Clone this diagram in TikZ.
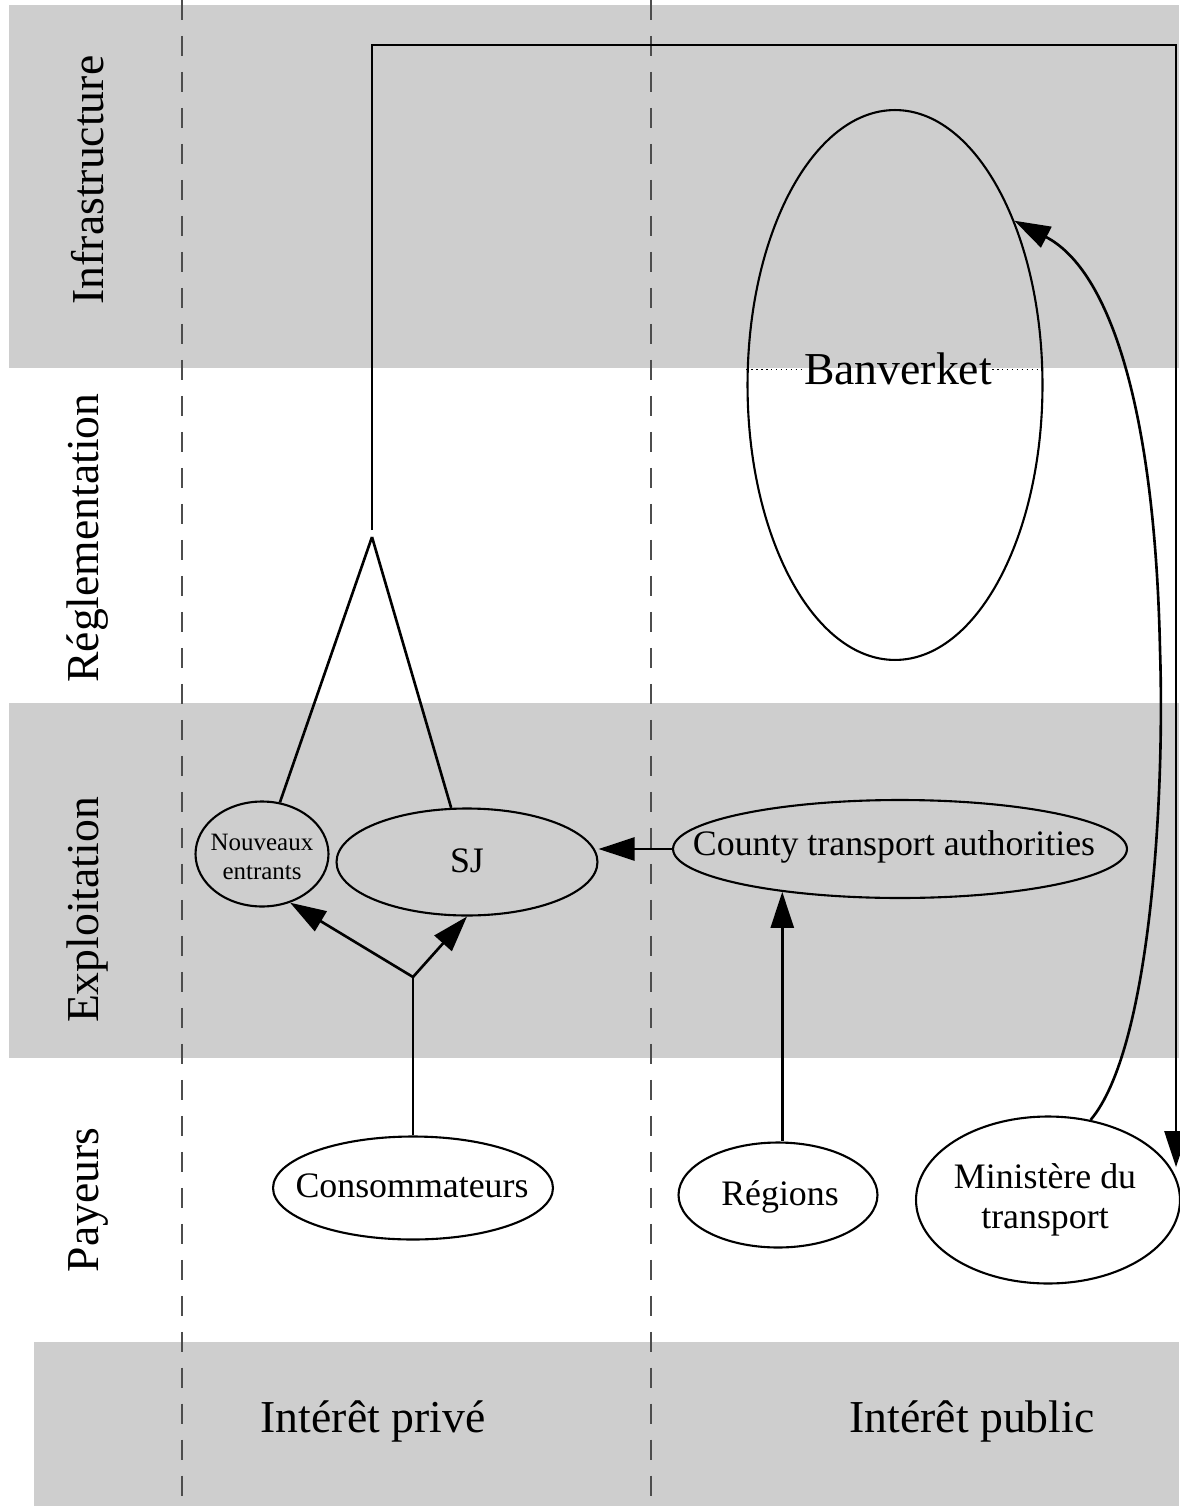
\documentclass[tikz,border=0pt]{standalone}
\usepackage{fontspec}
\setmainfont{Liberation Serif}
\usepackage{tikz}
\usetikzlibrary{arrows.meta,shapes.geometric,calc}
\definecolor{BandGray}{HTML}{CECECE}
\definecolor{GuideGray}{HTML}{4D4D4D}

\begin{document}
\begin{tikzpicture}[
  x=0.02cm, y=-0.02cm,
  >={Triangle[length=0.72cm,width=0.46cm]},
  oval/.style={ellipse,draw=black,line width=1.2pt,inner sep=0pt},
  txt/.style={inner sep=0pt,font=\fontsize{20.4}{23}\selectfont,align=center},
  big/.style={inner sep=0pt,font=\fontsize{26}{30}\selectfont},
  side/.style={big,rotate=90},
  link/.style={line width=1.5pt,black},
  guide/.style={GuideGray,line width=0.6pt,dash pattern=on 0.4cm off 0.32cm},
]
\useasboundingbox (0,0) rectangle (1179,1506);
\fill[BandGray] (9,5) rectangle (1179,368);
\fill[BandGray] (9,703) rectangle (1179,1058);
\fill[BandGray] (34,1342) rectangle (1179,1506);
\draw[guide] (182,0) -- (182,1506);
\draw[guide] (651,0) -- (651,1506);

\foreach \n/\y/\t in {infra/180/Infrastructure,regl/538/Réglementation,expl/910/Exploitation,pay/1200/Payeurs}
  \node[side] (\n) at (88,\y) {\t};
\node[big,anchor=base] (priv) at (373,1432) {Intérêt privé};
\node[big,anchor=base] (pub) at (972,1432) {Intérêt public};

\node[oval,minimum width=5.9cm,minimum height=11cm] (bv) at (895,385) {};
\node[big,anchor=base] (bvT) at (898,385) {Banverket};
\node[oval,minimum width=2.66cm,minimum height=2.1cm] (nouv) at (262,854) {};
\node[txt,font=\fontsize{14.2}{17}\selectfont] (nouvT) at (262,857) {Nouveaux\\entrants};
\node[oval,minimum width=5.22cm,minimum height=2.14cm] (sj) at (467,862) {};
\node[txt,anchor=base] (sjT) at (467,872) {SJ};
\node[oval,minimum width=9.08cm,minimum height=1.96cm] (cta) at (900,849) {};
\node[txt,anchor=base] (ctaT) at (894,855) {County transport authorities};
\node[oval,minimum width=5.6cm,minimum height=2.06cm] (cons) at (413,1188) {};
\node[txt,anchor=base] (consT) at (412,1197) {Consommateurs};
\node[oval,minimum width=3.98cm,minimum height=2.1cm] (reg) at (778,1195) {};
\node[txt,anchor=base] (regT) at (780,1205) {Régions};
\node[oval,minimum width=5.28cm,minimum height=3.34cm] (mtr) at (1048,1200) {};
\node[txt] (mtrT) at (1045,1200) {Ministère du\\transport};

\draw[black,dotted,line width=0.8pt] (bv.west |- bvT.west) -- (bvT.west);
\draw[black,dotted,line width=0.8pt] (bvT.east) -- (bv.east |- bvT.east);

\coordinate (ftop) at (372,537);
\coordinate (ne) at (1176,45);
\coordinate (cfork) at (413,977);
\draw[link,->] ([yshift=0.14cm]ftop) |- (ne) -- (ne |- mtr.15);
\draw[link] (ftop) -- (nouv);
\draw[link] (ftop) -- (sj);
\draw[link] (cons) -- (cfork);
\draw[link,->] (cfork) -- (nouv.-60);
\draw[link,->] (cfork) -- (sj.south);
\draw[link,->] (cta) -- (sj.east |- cta);
\draw[link,->] (reg.north -| cta.200) -- (cta.200);
\draw[link,->] (mtr.62) .. controls (1150,1050) and (1165,800) .. (1160,650)
  .. controls (1155,410) and (1110,270) .. (bv.54);
\end{tikzpicture}
\end{document}
